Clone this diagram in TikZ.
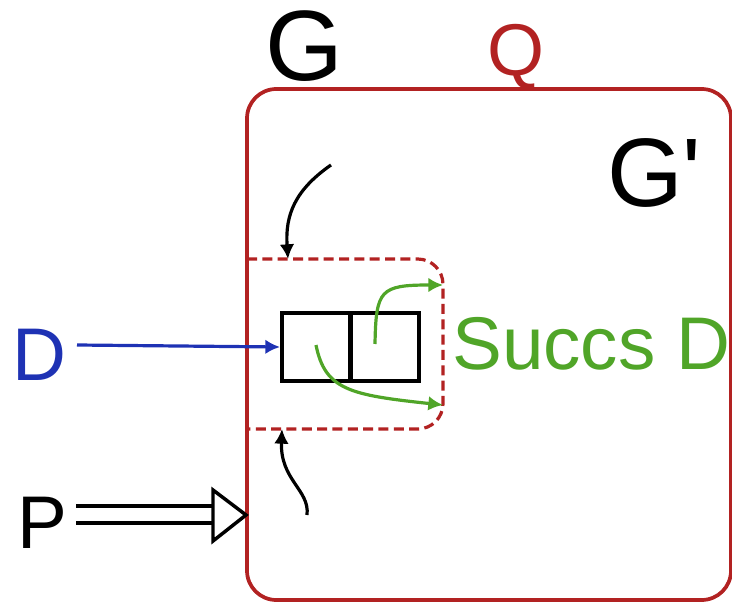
\documentclass[tikz,border=0pt]{standalone}
\usepackage{fontspec}
\newfontfamily\arialx{Liberation Sans}
\usetikzlibrary{arrows.meta}
\definecolor{qred}{RGB}{178,34,34}
\definecolor{dblue}{RGB}{30,50,180}
\definecolor{sgreen}{RGB}{80,165,40}
\begin{document}
\begin{tikzpicture}[x=0.75pt,y=-0.75pt,
  lbl/.style={inner sep=0pt,anchor=base west},
  blk/.style={draw=black,line width=2.6pt},
  tipA/.style={-{Latex[length=11pt,width=11pt]}},
  curve/.style={line width=2.4pt,tipA},
  cell/.style={draw=black,line width=3pt,minimum width=51pt,minimum height=51pt,inner sep=0pt}]
\useasboundingbox (0,0) rectangle (732,602);
% outer region
\draw[qred,line width=2.8pt,rounded corners=22pt] (247,89) rectangle (731,600);
% dashed region
\draw[qred,line width=2.4pt,dash pattern=on 7.5pt off 4pt,rounded corners=19pt]
  (247,259) -- (443,259) -- (443,429) -- (247,429);
% texts
\node[lbl,font=\arialx\fontsize{75}{80}\selectfont] (G) at (265,81) {G};
\node[lbl,font=\arialx\fontsize{55}{60}\selectfont,text=qred] (Q) at (487,76) {Q};
\node[lbl,font=\arialx\fontsize{73}{80}\selectfont] (Gp) at (607,207) {G'};
\node[lbl,font=\arialx\fontsize{56}{60}\selectfont,text=sgreen] (S) at (452,369) {Succs D};
\node[lbl,font=\arialx\fontsize{56}{60}\selectfont,text=dblue] (D) at (12,380) {D};
\node[lbl,font=\arialx\fontsize{56}{60}\selectfont] (P) at (17,548) {P};
% memory cells
\node[cell,anchor=north west] (c1) at (280,311) {};
\node[cell,anchor=north west] (c2) at (349,311) {};
% D arrow
\coordinate (ds) at (77,345);
\draw[dblue,line width=2.4pt,tipA] (ds) -- (c1.west);
% top black arrow
\coordinate (t0) at (331,165);
\coordinate (t1) at (288,259);
\draw[black,curve] (t0) .. controls (295,190) and (285,215) .. (t1);
% bottom black arrow
\coordinate (b0) at (307,515);
\coordinate (b1) at (282,429);
\draw[black,curve] (b0) .. controls (310,490) and (280,480) .. (b1);
% green arrows
\coordinate (g0) at (375,344);
\coordinate (g1) at (443,285);
\draw[sgreen,curve] (g0) .. controls (376,290) and (380,285) .. (g1);
\coordinate (h0) at (316,345);
\coordinate (h1) at (443,405);
\draw[sgreen,curve] (h0) .. controls (325,390) and (350,395) .. (h1);
% P double arrow
\coordinate (pt) at (246,515);
\draw[blk] (76,506) -- (214,506) (76,523) -- (214,523);
\draw[blk,line join=miter,fill=white] (213,490) -- (pt) -- (213,541) -- cycle;
\end{tikzpicture}
\end{document}
